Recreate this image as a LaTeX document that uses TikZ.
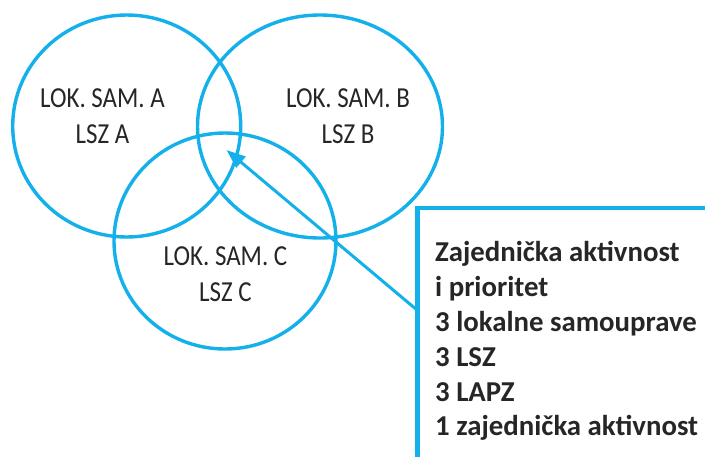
\documentclass[tikz,border=0pt]{standalone}
\usepackage{fontspec}
\setmainfont{Carlito}
\usetikzlibrary{arrows.meta}
\definecolor{venncyan}{RGB}{20,176,234}
\tikzset{
  vennring/.style={draw=venncyan, line width=3.4pt},
  circlabel/.style={anchor=base, inner sep=0pt, font=\fontsize{29}{36}\selectfont, text=black!85},
  boxline/.style={draw=venncyan, line width=4.6pt},
  boxtext/.style={anchor=base west, inner sep=0pt, font=\bfseries\fontsize{28.8}{34}\selectfont, text=black!85},
  pointer/.style={draw=venncyan, line width=3pt, -{Triangle[length=19pt,width=14pt]}}
}
\newcommand{\narrow}[1]{\scalebox{0.86}[1]{#1}}
\begin{document}
\begin{tikzpicture}[x=1pt,y=-1pt]
  \useasboundingbox (0,0) rectangle (705,456);
  \fill[white] (0,0) rectangle (705,456);

  % three overlapping regions
  \draw[vennring] (126.7,126) ellipse [x radius=114, y radius=111];
  \draw[vennring] (320,126.5) ellipse [x radius=122.5, y radius=111.5];
  \draw[vennring] (225,241) ellipse [x radius=111, y radius=108];

  % region labels
  \node[circlabel] (la1) at (102.5,107.3) {\narrow{LOK. SAM. A}};
  \node[circlabel] (la2) at (102.5,143.3) {\narrow{LSZ A}};
  \node[circlabel] (lb1) at (348,107.3) {\narrow{LOK. SAM. B}};
  \node[circlabel] (lb2) at (348,143.3) {\narrow{LSZ B}};
  \node[circlabel] (lc1) at (225.5,265) {\narrow{LOK. SAM. C}};
  \node[circlabel] (lc2) at (225.5,301.7) {\narrow{LSZ C}};

  % callout frame, open to the right and bottom
  \coordinate (frameTop) at (705,208);
  \coordinate (frameCorner) at (417.5,208);
  \coordinate (frameBottom) at (417.5,458);
  \draw[boxline, line join=miter] (frameTop) -- (frameCorner) -- (frameBottom);

  % callout text
  \node[boxtext] (t1) at (435,261.7) {Zajednička aktivnost};
  \node[boxtext] (t2) at (435,296.5) {i prioritet};
  \node[boxtext] (t3) at (435,331) {3 lokalne samouprave};
  \node[boxtext] (t4) at (435,366) {3 LSZ};
  \node[boxtext] (t5) at (435,401) {3 LAPZ};
  \node[boxtext] (t6) at (435,435.5) {1 zajednička aktivnost};

  % pointer to the common intersection
  \coordinate (ptrStart) at (417,310);
  \coordinate (ptrEnd) at (226.5,150);
  \draw[pointer] (ptrStart) -- (ptrEnd);
\end{tikzpicture}
\end{document}
